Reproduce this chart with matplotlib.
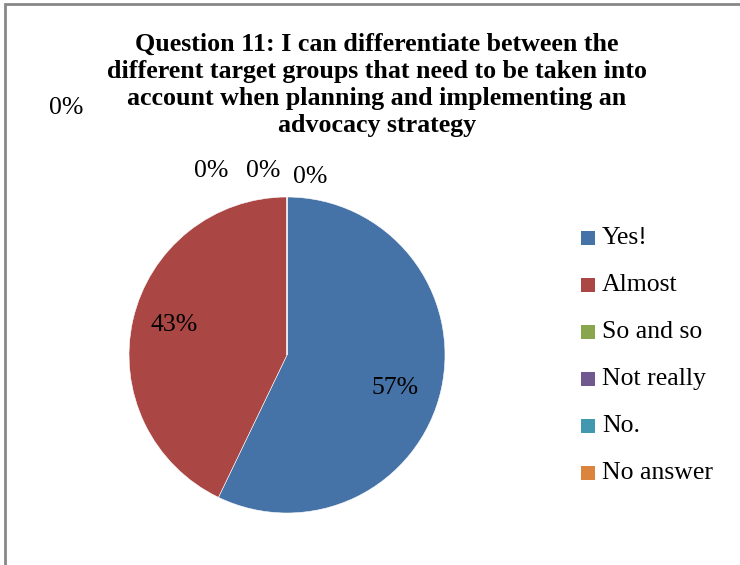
import matplotlib.pyplot as plt
from matplotlib.patches import Rectangle

labels = ['Yes!', 'Almost', 'So and so', 'Not really', 'No.', 'No answer']
counts = [4, 3, 0, 0, 0, 0]
colors = ['#4572a7', '#aa4643', '#89a54e', '#71588f', '#4198af', '#db843d']

plt.rcParams['font.family'] = ['Liberation Serif', 'DejaVu Serif']

fig = plt.figure(figsize=(7.4, 5.65), dpi=100)
W, H = 740, 565

# frame around the chart area (only top and left edges fall inside the image)
fig.patches.append(Rectangle((5 / W, -0.1), 1.2, (H - 4) / H + 0.1, transform=fig.transFigure,
                             fill=False, edgecolor='#888888', linewidth=2))

title = ('Question 11: I can differentiate between the\n'
         'different target groups that need to be taken into\n'
         'account when planning and implementing an\n'
         'advocacy strategy')
fig.text(377 / W, 1 - 33 / H, title, ha='center', va='top', fontsize=18.7,
         fontweight='bold', linespacing=1.23)

# pie centred at (287, 355) px, radius 158 px
r = 158
ax = fig.add_axes([(287 - r) / W, 1 - (355 + r) / H, 2 * r / W, 2 * r / H])
wedges, _ = ax.pie(counts, colors=colors, startangle=90, counterclock=False,
                   wedgeprops=dict(linewidth=0.4, edgecolor='white'))
ax.set_aspect('equal')
ax.set_xlim(-1, 1)
ax.set_ylim(-1, 1)

total = sum(counts)
pct = [f'{round(c / total * 100)}%' for c in counts]

# labels for the non-empty slices
fig.text(395 / W, 1 - 388 / H, pct[0], ha='center', va='center', fontsize=18.5)
fig.text(174 / W, 1 - 325 / H, pct[1], ha='center', va='center', fontsize=18.5)
# labels for the empty slices, pushed outside the pie
zero_pos = [(211, 171), (263, 171), (310, 177), (66, 108)]
for p, (x, y) in zip(pct[2:], zero_pos):
    fig.text(x / W, 1 - y / H, p, ha='center', va='center', fontsize=18.5)

# legend
for i, (lab, col) in enumerate(zip(labels, colors)):
    y = 238 + i * 47
    fig.patches.append(Rectangle((581 / W, 1 - (y + 7) / H), 14 / W, 14 / H,
                                 transform=fig.transFigure, facecolor=col, edgecolor='none'))
    fig.text(602 / W, 1 - y / H, lab, ha='left', va='center', fontsize=18.5)

fig.savefig('out.png', dpi=100)
